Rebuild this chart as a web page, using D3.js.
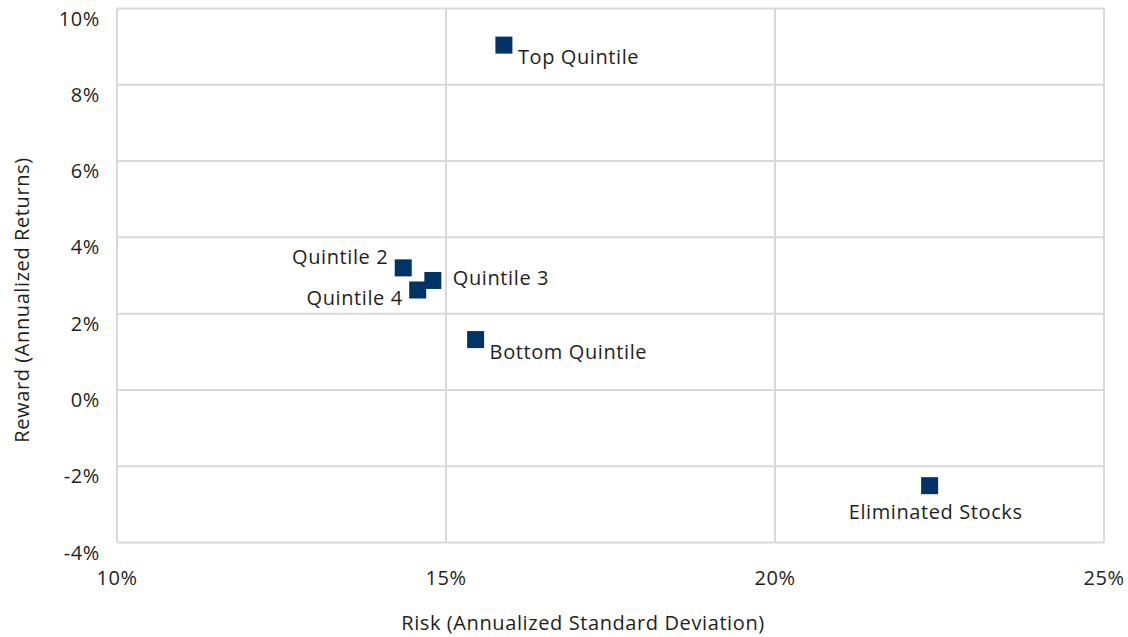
<!DOCTYPE html>
<html><head><meta charset="utf-8">
<script src="https://cdn.jsdelivr.net/npm/d3@7"></script>
<style>
body{margin:0;background:#fff;}
text{font-family:"Open Sans",sans-serif;fill:#231f20;letter-spacing:0.6px;}
</style></head>
<body><svg id="c" width="1128" height="637"></svg>
<script>
const names = ["Top Quintile","Quintile 2","Quintile 3","Quintile 4","Bottom Quintile","Eliminated Stocks"];
const risk = [15.88, 14.35, 14.80, 14.57, 15.45, 22.35];
const reward = [9.04, 3.20, 2.87, 2.62, 1.32, -2.51];
const labelPos = ["right","left","right","left","right","below"];
const xTicks = [10,15,20,25];
const yTicks = [-4,-2,0,2,4,6,8,10];

const svg = d3.select("#c");
const L=117, R=1104, T=8.5, B=542.5;
const x = d3.scaleLinear().domain([10,25]).range([L,R]);
const y = d3.scaleLinear().domain([-4,10]).range([B,T]);
const grid="#d9d9d9";
const fs=20;

svg.append("g").selectAll("line.v").data(xTicks).join("line")
  .attr("x1",d=>x(d)).attr("x2",d=>x(d)).attr("y1",T).attr("y2",B)
  .attr("stroke",grid).attr("stroke-width",2);
svg.append("g").selectAll("line.h").data(yTicks).join("line")
  .attr("x1",L).attr("x2",R).attr("y1",d=>y(d)).attr("y2",d=>y(d))
  .attr("stroke",grid).attr("stroke-width",2);

svg.append("g").selectAll("text").data(yTicks).join("text")
  .attr("x",100).attr("y",d=>y(d)+10).attr("dy","0.35em").attr("text-anchor","end")
  .attr("font-size",fs).text(d=>d+"%");
svg.append("g").selectAll("text").data(xTicks).join("text")
  .attr("x",d=>x(d)).attr("y",578).attr("dy","0.35em").attr("text-anchor","middle")
  .attr("font-size",fs).text(d=>d+"%");

svg.append("text").attr("x",583).attr("y",623).attr("dy","0.35em").attr("text-anchor","middle")
  .attr("font-size",fs).text("Risk (Annualized Standard Deviation)");
svg.append("text").attr("transform","translate(22,300) rotate(-90)").attr("dy","0.35em").attr("text-anchor","middle")
  .attr("font-size",fs).text("Reward (Annualized Returns)");

const data = names.map((n,i)=>({n, x:risk[i], y:reward[i], p:labelPos[i]}));
const s=17;
svg.append("g").selectAll("rect").data(data).join("rect")
  .attr("x",d=>x(d.x)-s/2).attr("y",d=>y(d.y)-s/2).attr("width",s).attr("height",s)
  .attr("fill","#003366");
svg.append("g").selectAll("text").data(data).join("text")
  .attr("font-size",fs).attr("dy","0.35em")
  .attr("x",d=>d.p==="right"? x(d.x)+(d.n==="Quintile 3"?20:14) : d.p==="left"? x(d.x)-15 : x(d.x)+6)
  .attr("y",d=>d.p==="below"? y(d.y)+26 : d.n==="Quintile 2"? y(d.y)-11 : d.n==="Quintile 4"? y(d.y)+8 : d.n==="Quintile 3"? y(d.y)-2 : y(d.y)+12)
  .attr("text-anchor",d=>d.p==="right"?"start":d.p==="left"?"end":"middle")
  .text(d=>d.n);
</script></body></html>
